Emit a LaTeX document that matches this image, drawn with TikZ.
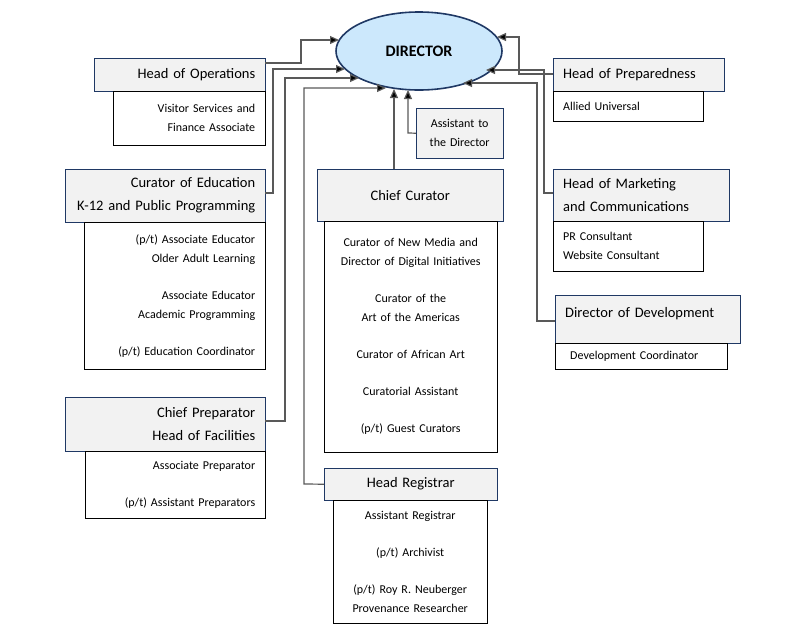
\documentclass[tikz,border=0pt]{standalone}
\usepackage{fontspec}
\setmainfont{Carlito}
\usetikzlibrary{arrows.meta}
\usetikzlibrary{shapes.geometric}
\usetikzlibrary{positioning}

\definecolor{boxblue}{HTML}{1F3864}
\definecolor{headgray}{HTML}{F2F2F2}
\definecolor{dirblue}{HTML}{CCE8FC}

\tikzset{
  head/.style={draw=boxblue,fill=headgray,anchor=north west,inner xsep=10pt,inner ysep=0pt,
    font=\fontsize{14.5}{23}\selectfont},
  sub/.style={draw=black,fill=white,anchor=north west,inner xsep=10pt,inner ysep=0pt,
    font=\fontsize{12}{19}\selectfont},
  link/.style={draw=black!65,line width=1.2pt,-{Triangle[length=9pt,width=8pt,fill=black]}}
}

\begin{document}
\begin{tikzpicture}[x=1pt,y=-1pt]

  \useasboundingbox (0,0) rectangle (806,641);

  \node [draw=boxblue,line width=1.6pt,fill=dirblue,ellipse,minimum width=166,minimum height=78,
    inner sep=0pt,font=\fontsize{16}{16}\selectfont\bfseries] (dir) at (419,51) {DIRECTOR};

  % left column
  \node [head,minimum width=171,minimum height=33,text width=151,align=right] (ops) at (94,58) {Head of Operations};
  \node [sub,minimum width=152,minimum height=54,text width=132,align=right] (opsSub) at (113,91)
    {Visitor Services and\\Finance Associate};

  \node [head,minimum width=200,minimum height=53,text width=180,align=right] (edu) at (65,169)
    {Curator of Education\\K-12 and Public Programming};
  \node [sub,minimum width=181,minimum height=147,text width=161,align=right] (eduSub) at (84,222)
    {(p/t) Associate Educator\\Older Adult Learning\\[18pt]Associate Educator\\Academic Programming\\[18pt](p/t) Education Coordinator};

  \node [head,minimum width=200,minimum height=54,text width=180,align=right] (prep) at (65,397)
    {Chief Preparator\\Head of Facilities};
  \node [sub,minimum width=180,minimum height=67,text width=160,align=right] (prepSub) at (85,451)
    {Associate Preparator\\[18pt](p/t) Assistant Preparators};

  % middle column
  \node [head,minimum width=87,minimum height=50,text width=80,inner xsep=3pt,align=center,
    font=\fontsize{12}{19}\selectfont] (asst) at (416,108) {Assistant to\\the Director};

  \node [head,minimum width=186,minimum height=52,text width=166,align=center] (cur) at (317,169) {Chief Curator};
  \node [sub,minimum width=173,minimum height=231,text width=153,align=center] (curSub) at (324,221)
    {Curator of New Media and\\Director of Digital Initiatives\\[18pt]Curator of the\\Art of the Americas\\[18pt]Curator of African Art\\[18pt]Curatorial Assistant\\[18pt](p/t) Guest Curators};

  \node [head,minimum width=173,minimum height=32,text width=153,align=center] (reg) at (324,468) {Head Registrar};
  \node [sub,minimum width=154,minimum height=123,text width=134,align=center] (regSub) at (333,500)
    {Assistant Registrar\\[18pt](p/t) Archivist\\[18pt](p/t) Roy R. Neuberger\\Provenance Researcher};

  % right column
  \node [head,minimum width=171,minimum height=33,text width=151,align=left] (prd) at (553,58) {Head of Preparedness};
  \node [sub,minimum width=150,minimum height=30,text width=130,align=left] (prdSub) at (553,91) {Allied Universal};

  \node [head,minimum width=176,minimum height=52,text width=156,align=left] (mkt) at (553,169)
    {Head of Marketing\\and Communications};
  \node [sub,minimum width=150,minimum height=50,text width=130,align=left] (mktSub) at (553,221)
    {PR Consultant\\Website Consultant};

  \node [head,minimum width=185,minimum height=48,text width=165,align=left,text depth=14pt] (dev) at (555,295)
    {Director of Development};
  \node [sub,minimum width=172,minimum height=26,text width=142,align=left,inner xsep=15pt] (devSub) at (555,343)
    {Development Coordinator};

  % ends on the director
  \coordinate (inOps) at (339,40);
  \coordinate (inEdu) at (345,69);
  \coordinate (inPrep) at (359,78);
  \coordinate (inReg) at (386,88);
  \coordinate (inCur) at (394,89);
  \coordinate (inAsst) at (408,90);
  \coordinate (inPrd) at (497,37);
  \coordinate (inMkt) at (486,70);
  \coordinate (inDev) at (463,83);

  \draw [link] (ops.east |- 0,63) -- (301,63) |- (inOps);
  \draw [link] (edu.east |- 0,193) -- (273,193) |- (inEdu);
  \draw [link] (prep.east |- 0,421) -- (285,421) |- (inPrep);
  \draw [link] (reg.west) -- (304,484) |- (inReg);
  \draw [link] (cur.north -| inCur) -- (inCur);
  \draw [link] (asst.west) -- (408,133) -- (inAsst);
  \draw [link] (prd.west |- 0,74) -- (519,74) |- (inPrd);
  \draw [link] (mkt.west |- 0,193) -- (544,193) |- (inMkt);
  \draw [link] (dev.west |- 0,321) -- (537,321) |- (inDev);

\end{tikzpicture}
\end{document}
